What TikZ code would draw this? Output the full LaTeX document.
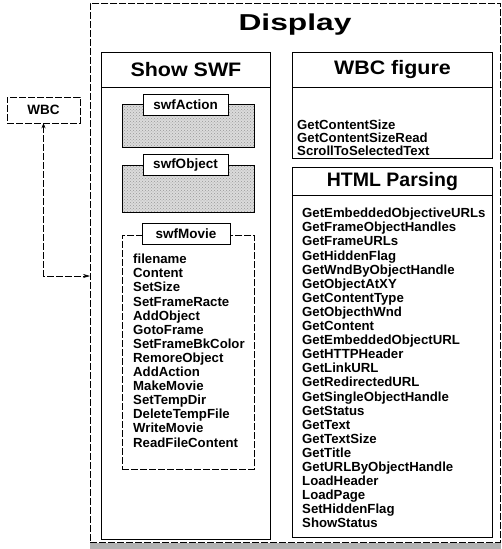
\documentclass[tikz,border=0pt]{standalone}
\usepackage{fontspec}
\setmainfont{Liberation Sans}
\usetikzlibrary{arrows.meta,patterns}
\begin{document}
\begin{tikzpicture}[x=1pt,y=-1pt,
  box/.style={draw, line width=0.9pt, inner sep=0pt, anchor=north west},
  hdr/.style={draw, line width=0.9pt, inner sep=0pt, anchor=north west, font=\fontsize{19.5}{20}\selectfont\bfseries},
  stip/.style={box, preaction={fill=gray!28}, pattern=crosshatch dots, pattern color=gray!80},
  tab/.style={draw, fill=white, line width=0.9pt, minimum width=85pt, minimum height=21pt, inner sep=0pt, font=\fontsize{13.5}{14}\selectfont\bfseries},
  mlist/.style={anchor=north west, inner sep=0pt, align=left, font=\fontsize{13.2}{14.1}\selectfont\bfseries},
  thin/.style={dashed, line width=0.5pt, dash pattern=on 7pt off 2pt}
]
\useasboundingbox (0,0) rectangle (501,549);
\fill[white] (0,0) rectangle (501,549);

% outer Display frame
\node[box, thin, minimum width=410pt, minimum height=539pt] (display) at (90,3) {};
\node[font=\fontsize{23}{24}\selectfont\bfseries] (disptitle) at (295,25) {\scalebox{1.38}[1]{Display}};
\fill[gray!60] (90,543) rectangle (501,549);

% Show SWF
\node[box, minimum width=169pt, minimum height=487pt] (showswf) at (101,52) {};
\node[hdr, minimum width=169pt, minimum height=35pt] (showhdr) at (101,52) {\scalebox{1.1}[1]{Show SWF}};

\node[stip, minimum width=132pt, minimum height=43pt] (actbody) at (122,104) {};
\node[tab] (acttab) at (185.5,104.5) {swfAction};
\node[stip, minimum width=132pt, minimum height=47pt] (objbody) at (122,165) {};
\node[tab] (objtab) at (185.5,165) {swfObject};
\node[box, thin, line width=0.6pt, minimum width=132pt, minimum height=234pt] (moviebody) at (122,235) {};
\node[tab, minimum width=88pt] (movietab) at (186,234) {swfMovie};
\node[mlist] (movielist) at (133,254) {filename\\Content\\SetSize\\SetFrameRacte\\AddObject\\GotoFrame\\SetFrameBkColor\\RemoreObject\\AddAction\\MakeMovie\\SetTempDir\\DeleteTempFile\\WriteMovie\\ReadFileContent};

% WBC figure
\node[box, minimum width=200pt, minimum height=106pt] (wbcfig) at (292,52) {};
\node[hdr, minimum width=200pt, minimum height=35pt] (wbchdr) at (292,52) {\scalebox{1.1}[1]{WBC figure}};
\node[mlist, font=\fontsize{13.2}{13}\selectfont\bfseries] (wbclist) at (297,120) {GetContentSize\\GetContentSizeRead\\ScrollToSelectedText};

% HTML Parsing
\node[box, minimum width=200pt, minimum height=370pt] (html) at (292,167) {};
\node[hdr, minimum width=200pt, minimum height=28pt] (htmlhdr) at (292,167) {HTML Parsing};
\node[mlist] (htmllist) at (302,208) {GetEmbeddedObjectiveURLs\\GetFrameObjectHandles\\GetFrameURLs\\GetHiddenFlag\\GetWndByObjectHandle\\GetObjectAtXY\\GetContentType\\GetObjecthWnd\\GetContent\\GetEmbeddedObjectURL\\GetHTTPHeader\\GetLinkURL\\GetRedirectedURL\\GetSingleObjectHandle\\GetStatus\\GetText\\GetTextSize\\GetTitle\\GetURLByObjectHandle\\LoadHeader\\LoadPage\\SetHiddenFlag\\ShowStatus};

% WBC and connector
\node[draw, thin, minimum width=73pt, minimum height=26pt, inner sep=0pt, font=\fontsize{13.5}{14}\selectfont\bfseries] (wbc) at (43.5,110) {WBC};
\coordinate (entry) at (90,276);
\draw[thin, line width=0.6pt, {Stealth[length=5pt,width=4pt]}-{Stealth[length=7pt,width=4pt]}] (wbc.south) |- (entry);
\end{tikzpicture}
\end{document}
